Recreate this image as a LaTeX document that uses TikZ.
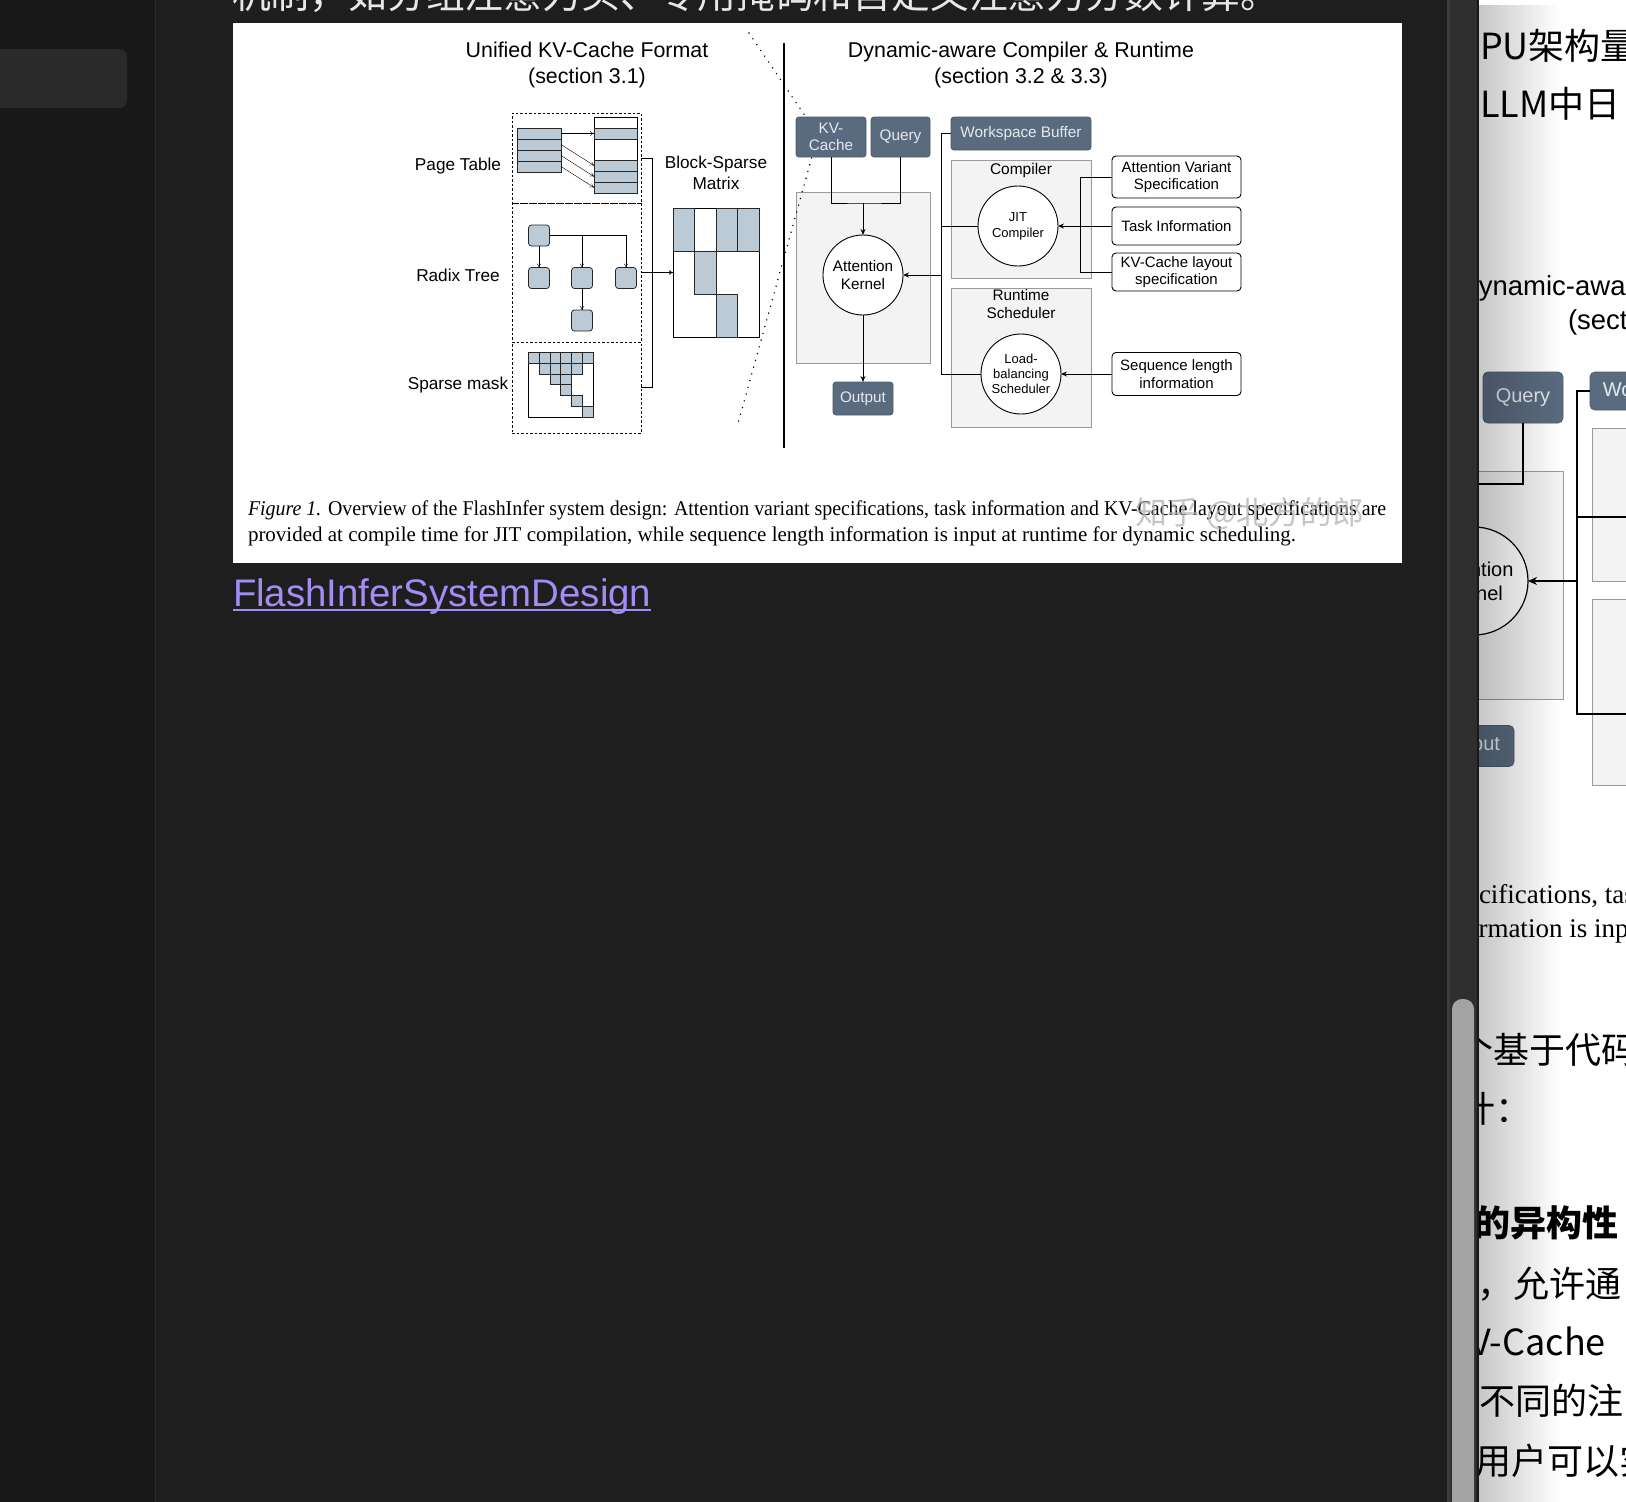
\documentclass[tikz,border=0pt]{standalone}
\usepackage{fontspec}
\setmainfont{Liberation Sans}
\newfontfamily\capfont{Liberation Serif}
\newfontfamily\cjk{Noto Sans CJK SC}
\usetikzlibrary{arrows.meta,positioning,fadings}
\definecolor{pagebg}{HTML}{1E1E1E}
\definecolor{sidebg}{HTML}{181818}
\definecolor{sideline}{HTML}{2C2C2C}
\definecolor{sidebox}{HTML}{2A2A2A}
\definecolor{toptext}{HTML}{E8E8E8}
\definecolor{slatefill}{HTML}{5B6B7F}
\definecolor{slateline}{HTML}{4A5A6D}
\definecolor{slatetext}{HTML}{E4E9EF}
\definecolor{cellfill}{HTML}{BCCAD6}
\definecolor{panelfill}{HTML}{F3F3F3}
\definecolor{panelline}{HTML}{9A9A9A}
\definecolor{linkc}{HTML}{A48CF7}
\definecolor{trackline}{HTML}{3C3C3C}
\definecolor{trackc}{HTML}{2E2E2E}
\definecolor{thumbc}{HTML}{A3A3A3}
\newcommand{\fsz}[2]{\fontsize{#1}{#2}\selectfont}

\begin{document}
\begin{tikzpicture}[x=1pt, y=-1pt,
    every node/.style={inner sep=0pt, outer sep=0pt, align=center},
    >={Stealth[length=6pt,width=5pt]},
    thin arrow/.style={-{To[length=4pt,width=4.5pt]}},
    slate/.style={fill=slatefill, draw=slateline, line width=.8pt, rounded corners=3pt, text=slatetext, font=\fsz{15.3}{17.5}},
    spec/.style={draw, line width=.9pt, rounded corners=4pt, fill=white, minimum width=129, font=\fsz{15}{17.5}},
    panel/.style={fill=panelfill, draw=panelline, line width=.8pt},
    kernel/.style={circle, draw, line width=.9pt, fill=white, minimum size=80},
    dashbox/.style={draw, line width=.8pt, dash pattern=on 2.5pt off 2pt, minimum width=129},
    cell/.style={fill=cellfill, draw=black!85, line width=.8pt},
    rnode/.style={cell, rounded corners=3pt, minimum size=21},
    side/.style={font=\fsz{17.2}{21}},
    title/.style={font=\fsz{21.4}{26}},
    dotline/.style={line width=1.6pt, line cap=round, dash pattern=on 0pt off 7pt},
    zh/.style={anchor=base west, font=\cjk\fsz{36}{40}},
  ]
  \useasboundingbox (0,0) rectangle (1626,1502);
  % page
  \fill[pagebg] (0,0) rectangle (1626,1502);
  \fill[sidebg] (0,0) rectangle (155,1502);
  \draw[sideline] (155,0) -- (155,1502);
  \fill[sidebox, rounded corners=8pt] (-20,49) rectangle (127,108);
  \node[anchor=base west, text=toptext, font=\cjk\fsz{38.8}{40}] (toptxt) at (232,8.5) {机制，如分组注意力头、专用掩码和自定义注意力分数计算。};
  \fill[white] (233,23) rectangle (1402,563);

  % unified kv-cache format
  \node[title] (uftitle) at (587,65) {Unified KV-Cache Format\\(section 3.1)};
  \node[dashbox, minimum height=90] (ptbox) at (576.5,158) {};
  \node[dashbox, minimum height=139, below=0pt of ptbox] (rtbox) {};
  \node[dashbox, minimum height=91, below=0pt of rtbox] (smbox) {};
  \node[side] (ptlabel) at (458,166) {Page Table};
  \node[side] (rtlabel) at (458,275) {Radix Tree};
  \node[side] (smlabel) at (458,385) {Sparse mask};

  \foreach \i in {1,...,4}
    \node[cell, minimum width=44, minimum height=11] (pl\i) at (539,122.5+11*\i) {};
  \node[draw, line width=.8pt, minimum width=43, minimum height=76] (pcol) at (615.5,155) {};
  \foreach \i/\y in {1/133.5, 2/165.5, 3/176.5, 4/187.5}
    \node[cell, minimum width=43, minimum height=11] (pr\i) at (615.5,\y) {};
  \foreach \i in {1,...,4}
    \draw[thin arrow] (pl\i.east) -- (pr\i.west);

  \node[rnode] (rr) at (539,235.5) {};
  \node[rnode] (rc1) at (539,278) {};
  \node[rnode] (rc2) at (582,278) {};
  \node[rnode] (rc3) at (626,278) {};
  \node[rnode] (rg) at (582,320.5) {};
  \draw[thin arrow] (rr) -- (rc1);
  \draw[thin arrow] (rr.east) -| (rc2);
  \draw[thin arrow] (rr.east) -| (rc3);
  \draw[thin arrow] (rc2) -- (rg);

  \node[draw, line width=.9pt, minimum size=64.3] (smask) at (560.85,384.85) {};
  \foreach \r/\a/\b in {1/1/6, 2/2/5, 3/3/4, 4/4/4, 5/5/5, 6/6/6}
    \foreach \c in {\a,...,\b}
      \draw[cell] ({528.7+10.72*(\c-1)},{352.7+10.72*(\r-1)}) rectangle ++(10.72,10.72);

  \node[side] (bsmlabel) at (716,172.5) {Block-Sparse\\Matrix};
  \node[draw, line width=1pt, minimum width=86, minimum height=129] (bsm) at (716,272.5) {};
  \foreach \c/\r in {1/1, 3/1, 4/1, 2/2, 3/3}
    \draw[cell, line width=1pt] ({673+21.5*(\c-1)},{208+43*(\r-1)}) rectangle ++(21.5,43);
  \draw[line width=.8pt] (ptbox.east) -- ++(11,0) |- (smbox.east);
  \draw[thin arrow, line width=.8pt] (rtbox) -- (bsm);

  % compiler and runtime
  \node[title] (dctitle) at (1021,65) {Dynamic-aware Compiler \& Runtime\\(section 3.2 \& 3.3)};
  \node[panel, minimum width=134, minimum height=171] (akbox) at (863,277.5) {};
  \node[panel, minimum width=140, minimum height=118] (cbox) at (1021,219) {};
  \node[panel, minimum width=140, minimum height=139] (rbox) at (1021,357.5) {};
  \node[font=\fsz{15.5}{17}, below=3pt of cbox.north] (clabel) {Compiler};
  \node[font=\fsz{15.3}{18}, below=1pt of rbox.north] (rlabel) {Runtime\\Scheduler};
  \draw[dotline] (749,33) -- (818,135) -- (737,427);
  \draw[line width=1.2pt] (784,43) -- (784,448);

  \node[slate, minimum width=70, minimum height=40] (kv) at (831,137) {KV-\\Cache};
  \node[slate, minimum width=59, minimum height=40] (qry) at (900.5,137) {Query};
  \node[slate, minimum width=140, minimum height=33] (wsb) at (1021,133.5) {Workspace Buffer};
  \node[slate, minimum width=60, minimum height=33] (out) at (863,398.5) {Output};

  \node[kernel, font=\fsz{15.3}{17.5}] (ak) at (863,275) {Attention\\Kernel};
  \node[kernel, font=\fsz{13}{16}] (jit) at (1018,226) {JIT\\Compiler};
  \node[kernel, font=\fsz{13}{15}] (lb) at (1021,374) {Load-\\balancing\\Scheduler};

  \node[spec, minimum height=42] (avs) at (1176.5,177) {Attention Variant\\Specification};
  \node[spec, minimum height=38] (ti) at (1176.5,226) {Task Information};
  \node[spec, minimum height=38] (kvl) at (1176.5,272) {KV-Cache layout\\specification};
  \node[spec, minimum height=43] (sli) at (1176.5,374) {Sequence length\\information};

  \coordinate (kvq) at (863,203);
  \coordinate (busk) at (941,275);
  \coordinate (specbus) at (1080,226);
  \draw[line width=.9pt] (kv.south) |- (kvq) -| (qry.south);
  \draw[->, line width=.9pt] (kvq) -- (ak);
  \draw[->, line width=.9pt] (ak) -- (out);
  \draw[line width=.9pt] (wsb.west) -| (busk);
  \draw[line width=.9pt] (jit.west) -| (busk);
  \draw[line width=.9pt] (lb.west) -| (busk);
  \draw[->, line width=.9pt] (busk) -- (ak);
  \draw[line width=.9pt] (avs.west) -| (specbus);
  \draw[line width=.9pt] (kvl.west) -| (specbus);
  \draw[->, line width=.9pt] (ti) -- (jit);
  \draw[->, line width=.9pt] (sli) -- (lb);

  % caption
  \node[anchor=base west, font=\capfont\fsz{21}{25}] (cap1) at (248,515) {\resizebox{1138pt}{\height}{\textit{Figure 1.} Overview of the FlashInfer system design: Attention variant specifications, task information and KV-Cache layout specifications are}};
  \node[anchor=base west, font=\capfont\fsz{21}{25}] (cap2) at (248,541) {provided at compile time for JIT compilation, while sequence length information is input at runtime for dynamic scheduling.};
  \node[font=\cjk\fsz{32}{32}, text=black!30, opacity=.75] (wmark) at (1250,514) {知乎 @北方的郎};
  \node[anchor=base west, text=linkc, font=\fsz{38.4}{40}] (link) at (233,606) {FlashInferSystemDesign};
  \draw[linkc, line width=1.8pt] ([yshift=-4pt]link.base west) -- ([yshift=-4pt]link.base east);

  % scrollbar
  \fill[trackline] (1447,0) rectangle (1450,1502);
  \fill[trackc] (1450,0) rectangle (1477,1502);
  \fill[thumbc, rounded corners=10pt] (1452,999) rectangle (1474,1530);
  \fill[black!90] (1477,0) rectangle (1479,1502);

  % magnified panel
  \begin{scope}
    \clip (1479,0) rectangle (1626,1502);
    \fill[white] (1479,0) rectangle (1626,1502);
    \node[zh] (z1) at (1480,59) {PU架构量};
    \node[zh] (z2) at (1480,117) {LLM中日};
    \node[anchor=base west, font=\fsz{27.5}{30}] (z3) at (1459,295) {Dynamic-aware};
    \node[anchor=base west, font=\fsz{27.5}{30}] (z4) at (1568,329) {(section 3.2 \& 3.3)};
    \node[panel, minimum width=180, minimum height=228, anchor=north east] (zakbox) at (1563,471) {};
    \node[panel, minimum width=150, minimum height=153, anchor=north west] (zcbox) at (1592,428) {};
    \node[panel, minimum width=150, minimum height=186, anchor=north west] (zrbox) at (1592,599) {};
    \node[slate, minimum width=80, minimum height=51, rounded corners=5pt, font=\fsz{20}{24}] (zq) at (1523,397.5) {Query};
    \node[slate, minimum width=184, minimum height=38, rounded corners=5pt, font=\fsz{20}{24}, anchor=west] (zw) at (1590,391) {Workspace Buffer};
    \node[slate, minimum width=88, minimum height=41, rounded corners=5pt, font=\fsz{20}{24}, anchor=east] (zout) at (1514,746) {Output};
    \node[kernel, line width=1.2pt, minimum size=108, font=\fsz{20}{24}] (zak) at (1474,581) {Attention\\Kernel};
    \coordinate (zqk) at (1470,484);
    \coordinate (zbus) at (1577,581);
    \coordinate (zjit) at (1640,517);
    \coordinate (zlb) at (1640,714);
    \draw[line width=1.2pt] (zq) |- (zqk);
    \draw[line width=1.2pt] (zw.west) -| (zbus);
    \draw[line width=1.2pt] (zjit) -| (zbus);
    \draw[line width=1.2pt] (zlb) -| (zbus);
    \draw[-{Stealth[length=9pt,width=8pt]}, line width=1.2pt] (zbus) -- (zak);
    \node[anchor=base west, font=\capfont\fsz{27}{30}] (z5) at (1443,903) {specifications, task information};
    \node[anchor=base west, font=\capfont\fsz{27}{30}] (z6) at (1435,937) {information is input};
    \node[zh] (z7) at (1457,1063) {个基于代码};
    \node[zh] (z8) at (1459,1122) {计：};
    \node[zh, font=\cjk\bfseries\fsz{36}{40}] (z9) at (1474,1236) {的异构性};
    \node[zh] (z10) at (1477,1297) {，允许通};
    \node[zh] (z11) at (1470,1355) {V-Cache};
    \node[zh] (z12) at (1479,1414) {不同的注};
    \node[zh] (z13) at (1475,1474) {用户可以实};
    \fill[black, opacity=.22, path fading=east] (1479,0) rectangle (1560,1502);
  \end{scope}
\end{tikzpicture}
\end{document}
